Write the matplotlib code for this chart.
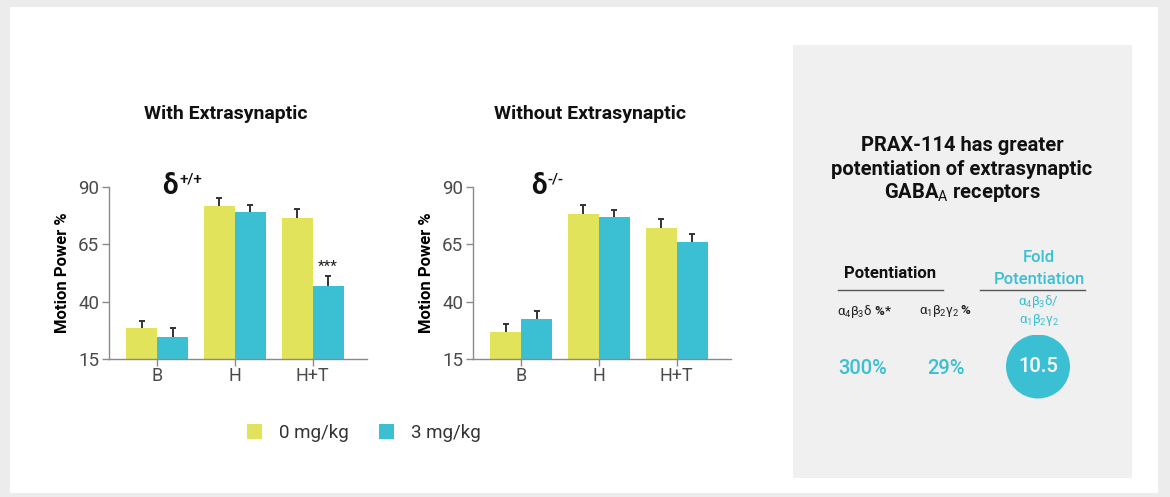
import matplotlib
matplotlib.use("Agg")
import matplotlib.pyplot as plt
import numpy as np
from matplotlib.patches import Rectangle, Circle
from matplotlib.lines import Line2D

plt.rcParams['font.family'] = ['Roboto', 'DejaVu Sans']
plt.rcParams['mathtext.fontset'] = 'custom'
plt.rcParams['mathtext.rm'] = 'Roboto'
plt.rcParams['mathtext.it'] = 'Roboto'
plt.rcParams['mathtext.bf'] = 'Roboto:bold'

# ---- data ----
categories = ['B', 'H', 'H+T']
doses = ['0 mg/kg', '3 mg/kg']

with_0mg = [28.5, 81.8, 76.7]
with_0mg_err = [3.2, 3.2, 3.5]
with_3mg = [24.8, 78.9, 46.7]
with_3mg_err = [3.5, 3.2, 4.3]

without_0mg = [26.8, 78.3, 72.2]
without_0mg_err = [3.6, 3.7, 3.8]
without_3mg = [32.5, 77.0, 66.0]
without_3mg_err = [3.3, 2.8, 3.6]

yticks = [15, 40, 65, 90]

potentiation_a4b3d = '300%'
potentiation_a1b2g2 = '29%'
fold_potentiation = '10.5'

# ---- style ----
YELLOW = '#e1e45a'
CYAN = '#3bbfd2'
AXIS_GREY = '#8a8a8a'
W, H = 1170, 497

fig = plt.figure(figsize=(W / 100, H / 100), dpi=100)
fig.patch.set_facecolor('#ececec')


def fx(px):
    return px / W


def fy(py):
    return 1 - py / H


# white card and grey side panel
fig.patches.append(Rectangle((fx(10), fy(493)), fx(1158) - fx(10), fy(7) - fy(493),
                             transform=fig.transFigure, facecolor='white',
                             edgecolor='none', zorder=-2))
fig.patches.append(Rectangle((fx(793), fy(478)), fx(1132) - fx(793), fy(45) - fy(478),
                             transform=fig.transFigure, facecolor='#f0f0f0',
                             edgecolor='none', zorder=-1))


def upper_errors(ax, xs, vals, errs):
    tops = np.asarray(vals) + np.asarray(errs)
    ax.vlines(xs, vals, tops, color='#333333', lw=1.4, zorder=3)
    ax.plot(xs, tops, ls='none', marker='_', ms=5, mew=1.4, color='#333333', zorder=3)


def bar_panel(left_px, title, sym_px, sup, v0, e0, v3, e3, stars=None):
    ax = fig.add_axes([fx(left_px), fy(359), fx(258), (359 - 187) / H])
    ax.set_zorder(1)
    ax.set_facecolor('none')
    x = np.arange(len(categories))
    w = 0.4
    ax.bar(x - w / 2, v0, width=w, color=YELLOW, zorder=2)
    ax.bar(x + w / 2, v3, width=w, color=CYAN, zorder=2)
    upper_errors(ax, x - w / 2, v0, e0)
    upper_errors(ax, x + w / 2, v3, e3)
    ax.set_xlim(-0.62, 2.7)
    ax.set_ylim(15, 90)
    ax.set_yticks(yticks)
    ax.set_xticks(x)
    ax.set_xticklabels(categories)
    for s in ['top', 'right']:
        ax.spines[s].set_visible(False)
    for s in ['left', 'bottom']:
        ax.spines[s].set_color(AXIS_GREY)
        ax.spines[s].set_linewidth(1.0)
    ax.tick_params(axis='both', direction='out', length=5, width=1.0,
                   color=AXIS_GREY, labelcolor='#4a4a4a', labelsize=13.5, pad=2)
    ax.tick_params(axis='x', labelsize=13, pad=1)
    ax.set_ylabel('Motion Power %', fontsize=12, fontweight='bold', labelpad=6)
    # genotype label: delta with a tight superscript
    fig.text(fx(sym_px), fy(194), 'δ', fontsize=20, fontweight='bold', ha='left',
             va='baseline', color='#111111')
    fig.text(fx(sym_px + 17), fy(184), sup, fontsize=11, fontweight='medium',
             ha='left', va='baseline', color='#111111')
    if stars is not None:
        i, txt = stars
        ax.text(i + w / 2, v3[i] + e3[i] + 1.0, txt, ha='center', va='bottom',
                fontsize=11, color='#222222')
    fig.text(fx(left_px + 117), fy(114), title, ha='center', va='center',
             fontsize=14, fontweight='bold', color='#111111')
    return ax


bar_panel(109, 'With Extrasynaptic', 162, '+/+',
          with_0mg, with_0mg_err, with_3mg, with_3mg_err, stars=(2, '***'))
bar_panel(473, 'Without Extrasynaptic', 531, '-/-',
          without_0mg, without_0mg_err, without_3mg, without_3mg_err)

# legend
handles = [Rectangle((0, 0), 1, 1, facecolor=YELLOW, edgecolor='none'),
           Rectangle((0, 0), 1, 1, facecolor=CYAN, edgecolor='none')]
fig.legend(handles, doses, loc='center', bbox_to_anchor=(fx(364), fy(433)),
           ncol=2, frameon=False, fontsize=13.5, handlelength=0.8, handleheight=0.8,
           handletextpad=0.9, columnspacing=1.6, labelcolor='#333333')

# side panel text
for i, line in enumerate(['PRAX-114 has greater',
                          'potentiation of extrasynaptic',
                          r'GABA$_{\mathrm{A}}$ receptors']):
    fig.text(fx(962), fy(146 + 23.5 * i), line, ha='center', va='center',
             fontsize=14.5, fontweight='bold', color='#111111')

fig.text(fx(890), fy(274), 'Potentiation', ha='center', va='center',
         fontsize=12, fontweight='bold', color='#111111')
fig.text(fx(1039), fy(258), 'Fold', ha='center', va='center',
         fontsize=12, fontweight='medium', color=CYAN)
fig.text(fx(1039), fy(280), 'Potentiation', ha='center', va='center',
         fontsize=12, fontweight='medium', color=CYAN)
fig.add_artist(Line2D([fx(838), fx(943)], [fy(290), fy(290)], color='#555555',
                      lw=1.0, transform=fig.transFigure))
fig.add_artist(Line2D([fx(980), fx(1085)], [fy(290), fy(290)], color='#555555',
                      lw=1.0, transform=fig.transFigure))

fig.text(fx(864), fy(311), r'$\alpha_4\beta_3\delta$ %*', ha='center', va='center',
         fontsize=9.5, fontweight='bold', color='#222222')
fig.text(fx(946), fy(311), r'$\alpha_1\beta_2\gamma_2$ %', ha='center', va='center',
         fontsize=9.5, fontweight='bold', color='#222222')
fig.text(fx(1039), fy(301), r'$\alpha_4\beta_3\delta$/', ha='center', va='center',
         fontsize=9.5, color=CYAN)
fig.text(fx(1039), fy(320), r'$\alpha_1\beta_2\gamma_2$', ha='center', va='center',
         fontsize=9.5, color=CYAN)

fig.text(fx(863), fy(369), potentiation_a4b3d, ha='center', va='center',
         fontsize=14.5, fontweight='medium', color=CYAN)
fig.text(fx(946), fy(369), potentiation_a1b2g2, ha='center', va='center',
         fontsize=14.5, fontweight='medium', color=CYAN)

circle_ax = fig.add_axes([fx(1006), fy(398.5), fx(64), 64 / H])
circle_ax.set_zorder(1)
circle_ax.set_xlim(-1, 1)
circle_ax.set_ylim(-1, 1)
circle_ax.set_aspect('equal')
circle_ax.axis('off')
circle_ax.add_patch(Circle((0, 0), 1.0, facecolor=CYAN, edgecolor='none'))
circle_ax.text(0, 0, fold_potentiation, ha='center', va='center', fontsize=14.5,
               fontweight='medium', color='white')

fig.savefig('out.png', dpi=100, facecolor=fig.get_facecolor())
